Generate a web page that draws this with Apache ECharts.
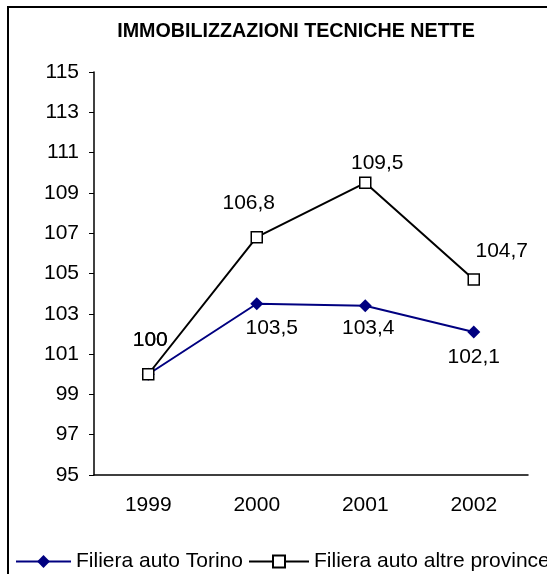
<!DOCTYPE html>
<html>
<head>
<meta charset="utf-8">
<script src="https://cdn.jsdelivr.net/npm/echarts@6/dist/echarts.min.js"></script>
<style>
  html, body { margin: 0; padding: 0; background: #fff; }
  #chart { width: 547px; height: 574px; }
</style>
</head>
<body>
<div id="chart"></div>
<script>
// dati
var anni = ['1999', '2000', '2001', '2002'];
var torino = [100, 103.5, 103.4, 102.1];
var altreProvince = [100, 106.8, 109.5, 104.7];

// spostamento delle etichette rispetto al punto
var offsetTorino = [[2, -34], [15, 24], [3, 22], [0, 25]];
var offsetAltre = [[2, -34], [-8, -34], [12, -20], [28, -28]];

var font = 'Liberation Sans, Arial, sans-serif';

function virgola(p) {
    return String(p.value).replace('.', ',');
}

function puntiConEtichetta(valori, offsets) {
    return valori.map(function (v, i) {
        return { value: v, label: { offset: offsets[i] } };
    });
}

var myChart = echarts.init(document.getElementById('chart'));

var option = {
    backgroundColor: '#fff',
    animation: false,
    textStyle: { fontFamily: font },
    title: {
        text: 'IMMOBILIZZAZIONI TECNICHE NETTE',
        left: 291,
        top: 17,
        textAlign: 'center',
        textStyle: { fontFamily: font, fontSize: 19.7, fontWeight: 'bold', color: '#000' }
    },
    graphic: [{
        type: 'polyline',
        shape: { points: [[8, 574], [8, 7], [547, 7]] },
        style: { stroke: '#000', lineWidth: 2, fill: null }
    }],
    legend: [{
        data: ['Filiera auto Torino'],
        left: 10,
        top: 546,
        itemWidth: 55,
        itemHeight: 16,
        textStyle: { fontFamily: font, fontSize: 21, color: '#000' }
    }, {
        data: ['Filiera auto altre province'],
        left: 243,
        top: 546,
        itemWidth: 60,
        itemHeight: 15,
        textStyle: { fontFamily: font, fontSize: 21, color: '#000' }
    }],
    grid: {
        left: 94,
        right: 19,
        top: 72,
        bottom: 99
    },
    xAxis: {
        type: 'category',
        data: anni,
        axisLine: { lineStyle: { color: '#000', width: 1.5 } },
        axisTick: { length: 5, lineStyle: { color: '#000' } },
        axisLabel: { fontFamily: font, fontSize: 21, color: '#000', margin: 20 }
    },
    yAxis: {
        type: 'value',
        min: 95,
        max: 115,
        interval: 2,
        splitLine: { show: false },
        axisLine: { show: true, lineStyle: { color: '#000', width: 1.5 } },
        axisTick: { show: true, length: 5, lineStyle: { color: '#000' } },
        axisLabel: { fontFamily: font, fontSize: 21, color: '#000', margin: 15 }
    },
    series: [
        {
            name: 'Filiera auto Torino',
            type: 'line',
            data: puntiConEtichetta(torino, offsetTorino),
            symbol: 'diamond',
            symbolSize: 13,
            lineStyle: { color: '#000080', width: 2 },
            itemStyle: { color: '#000080' },
            label: {
                show: true,
                position: 'inside',
                formatter: virgola,
                fontFamily: font,
                fontSize: 21,
                color: '#000'
            },
            z: 2
        },
        {
            name: 'Filiera auto altre province',
            type: 'line',
            data: puntiConEtichetta(altreProvince, offsetAltre),
            symbol: 'rect',
            symbolSize: 11,
            lineStyle: { color: '#000', width: 2 },
            itemStyle: { color: '#fff', borderColor: '#000', borderWidth: 1.5 },
            label: {
                show: true,
                position: 'inside',
                formatter: virgola,
                fontFamily: font,
                fontSize: 21,
                color: '#000'
            },
            z: 3
        }
    ]
};
myChart.setOption(option);
</script>
</body>
</html>
